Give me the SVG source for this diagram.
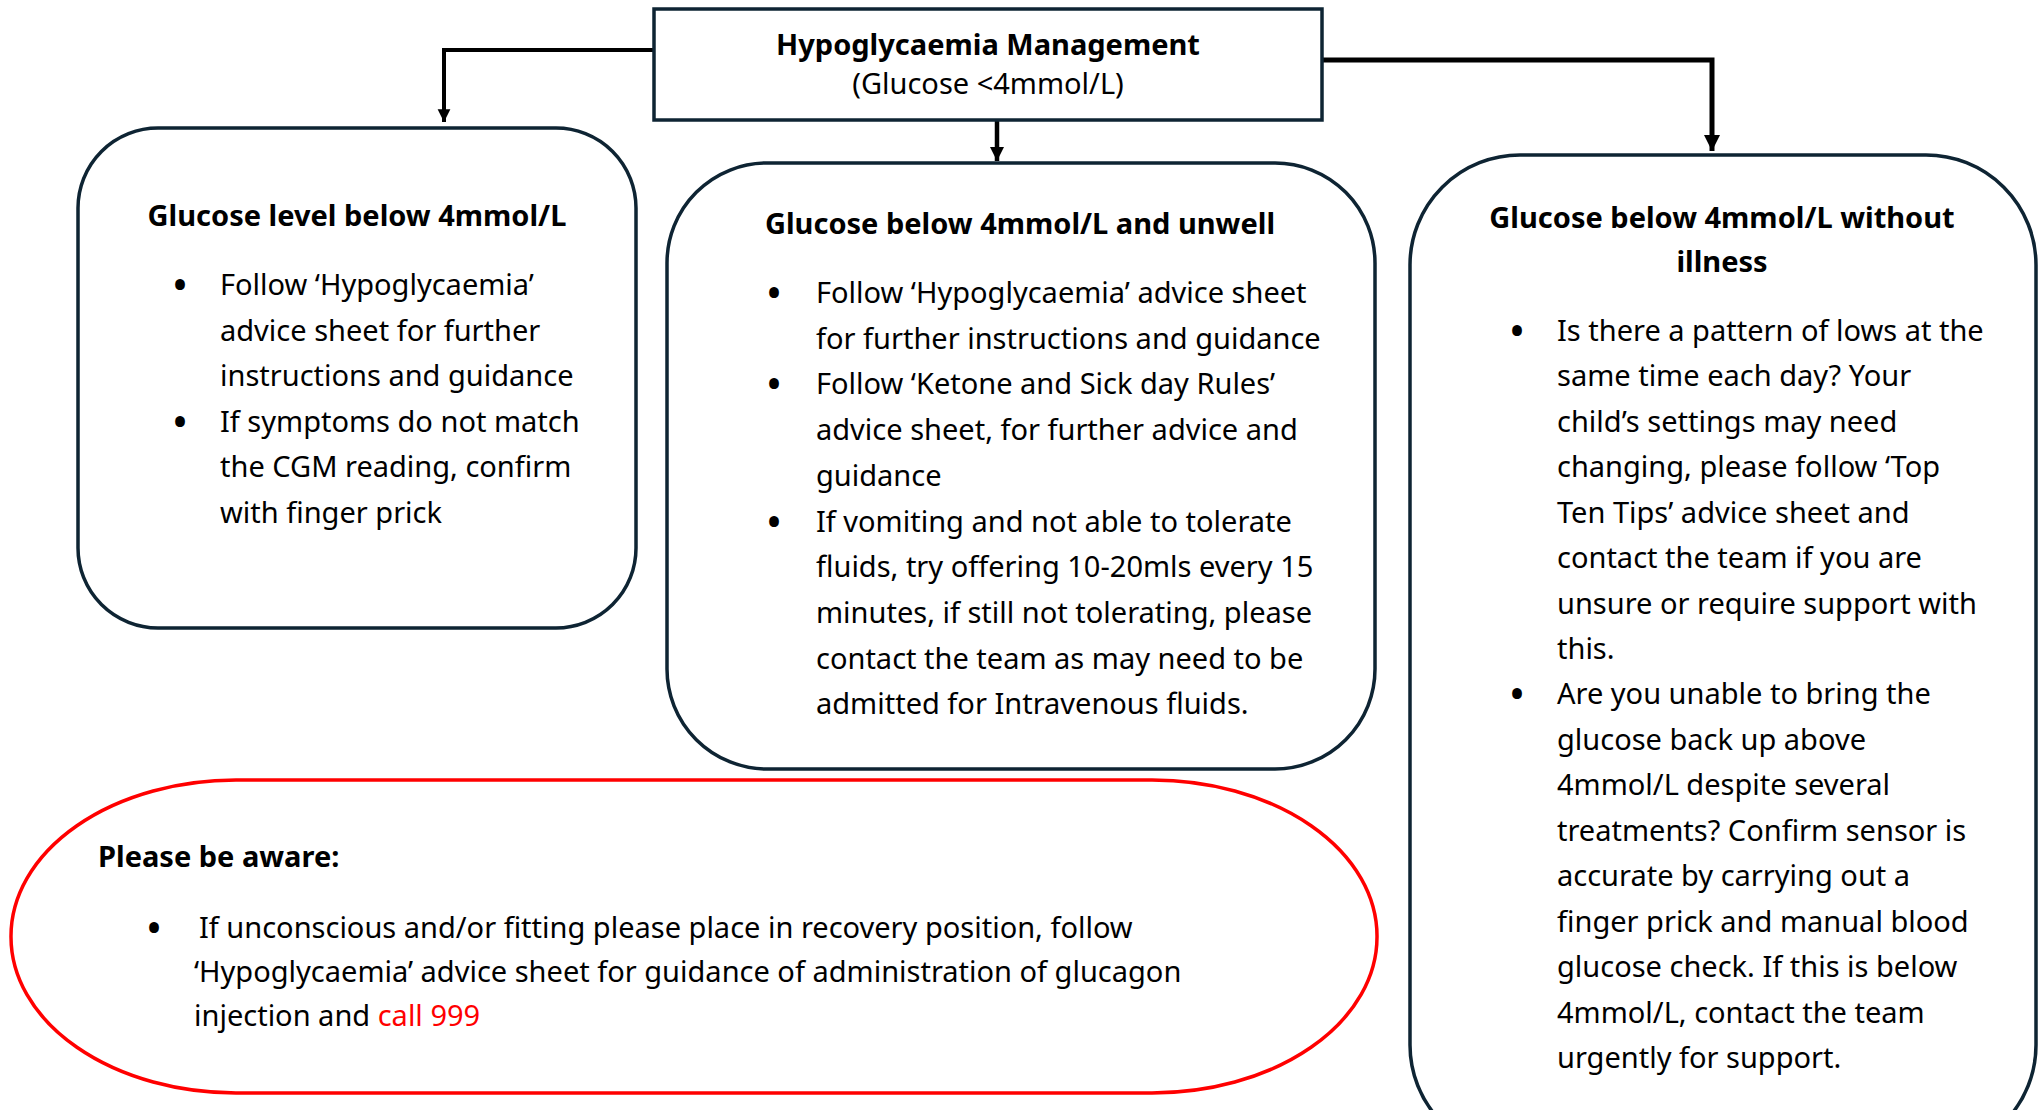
<svg xmlns="http://www.w3.org/2000/svg" width="2043" height="1110" viewBox="0 0 2043 1110">
<style>
.box{fill:#fff;stroke:#0e2433;stroke-width:3.5}
.red{fill:#fff;stroke:#f00;stroke-width:3.5}
.t{font-family:"Noto Sans","Open Sans",sans-serif;font-size:29px;fill:#000}
.bl{font-family:"Noto Sans","Open Sans",sans-serif;font-size:44px;fill:#000;text-anchor:middle}
.b{font-weight:bold}
.c{text-anchor:middle}
.con{fill:none;stroke:#000;stroke-width:4}
</style>
<defs>
<marker id="ah" viewBox="0 0 10 10" refX="10" refY="5" markerWidth="3.2" markerHeight="3.6" markerUnits="strokeWidth" orient="auto">
<path d="M0,0 L10,5 L0,10 z" fill="#000"/>
</marker>
</defs>
<rect width="2043" height="1110" fill="#fff"/>
<g id="connectors">
<path class="con" d="M654,50 H444 V122" marker-end="url(#ah)"/>
<path class="con" style="stroke-width:4.5" d="M997,120 V161" marker-end="url(#ah)"/>
<path class="con" style="stroke-width:5" d="M1322,60 H1712 V151" marker-end="url(#ah)"/>
</g>
<g id="top">
<rect class="box" x="654" y="9" width="668" height="111"/>
<text class="t b c" x="988" y="55">Hypoglycaemia Management</text>
<text class="t c" x="988" y="94">(Glucose &lt;4mmol/L)</text>
</g>
<g id="left">
<rect class="box" x="78" y="128" width="558" height="500" rx="80" ry="80"/>
<text class="t b c" x="357" y="226">Glucose level below 4mmol/L</text>
<text class="bl" x="180" y="301">•</text>
<text class="t" x="220" y="295">Follow ‘Hypoglycaemia’</text>
<text class="t" x="220" y="341">advice sheet for further</text>
<text class="t" x="220" y="386">instructions and guidance</text>
<text class="bl" x="180" y="438">•</text>
<text class="t" x="220" y="432">If symptoms do not match</text>
<text class="t" x="220" y="477">the CGM reading, confirm</text>
<text class="t" x="220" y="523">with finger prick</text>
</g>
<g id="middle">
<rect class="box" x="667" y="163" width="708" height="606" rx="100" ry="100"/>
<text class="t b c" x="1020" y="234">Glucose below 4mmol/L and unwell</text>
<text class="bl" x="774" y="309">•</text>
<text class="t" x="816" y="303">Follow ‘Hypoglycaemia’ advice sheet</text>
<text class="t" x="816" y="349">for further instructions and guidance</text>
<text class="bl" x="774" y="400">•</text>
<text class="t" x="816" y="394">Follow ‘Ketone and Sick day Rules’</text>
<text class="t" x="816" y="440">advice sheet, for further advice and</text>
<text class="t" x="816" y="486">guidance</text>
<text class="bl" x="774" y="538">•</text>
<text class="t" x="816" y="532">If vomiting and not able to tolerate</text>
<text class="t" x="816" y="577">fluids, try offering 10-20mls every 15</text>
<text class="t" x="816" y="623">minutes, if still not tolerating, please</text>
<text class="t" x="816" y="669">contact the team as may need to be</text>
<text class="t" x="816" y="714">admitted for  Intravenous fluids.</text>
</g>
<g id="right">
<rect class="box" x="1410" y="155" width="626" height="1000" rx="110" ry="110"/>
<text class="t b c" x="1722" y="228">Glucose below 4mmol/L without</text>
<text class="t b c" x="1722" y="272">illness</text>
<text class="bl" x="1517" y="347">•</text>
<text class="t" x="1557" y="341">Is there a pattern of lows at the</text>
<text class="t" x="1557" y="386">same time each day? Your</text>
<text class="t" x="1557" y="432">child’s settings may need</text>
<text class="t" x="1557" y="477">changing, please follow ‘Top</text>
<text class="t" x="1557" y="523">Ten Tips’ advice sheet and</text>
<text class="t" x="1557" y="568">contact the team if you are</text>
<text class="t" x="1557" y="614">unsure or require support with</text>
<text class="t" x="1557" y="659">this.</text>
<text class="bl" x="1517" y="710">•</text>
<text class="t" x="1557" y="704">Are you unable to bring the</text>
<text class="t" x="1557" y="750">glucose back up above</text>
<text class="t" x="1557" y="795">4mmol/L despite several</text>
<text class="t" x="1557" y="841">treatments? Confirm sensor is</text>
<text class="t" x="1557" y="886">accurate by carrying out a</text>
<text class="t" x="1557" y="932">finger prick and manual blood</text>
<text class="t" x="1557" y="977">glucose check. If this is below</text>
<text class="t" x="1557" y="1023">4mmol/L, contact the team</text>
<text class="t" x="1557" y="1068">urgently for support.</text>
</g>
<g id="aware">
<rect class="red" x="11" y="780" width="1366" height="313" rx="225" ry="156"/>
<text class="t b" x="98" y="867">Please be aware:</text>
<text class="bl" x="154" y="944">•</text>
<text class="t" x="199" y="938">If unconscious and/or fitting please place in recovery position, follow</text>
<text class="t" x="194" y="982">‘Hypoglycaemia’ advice sheet for guidance of administration of glucagon</text>
<text class="t" x="194" y="1026">injection and <tspan fill="#f00">call 999</tspan></text>
</g>
</svg>
